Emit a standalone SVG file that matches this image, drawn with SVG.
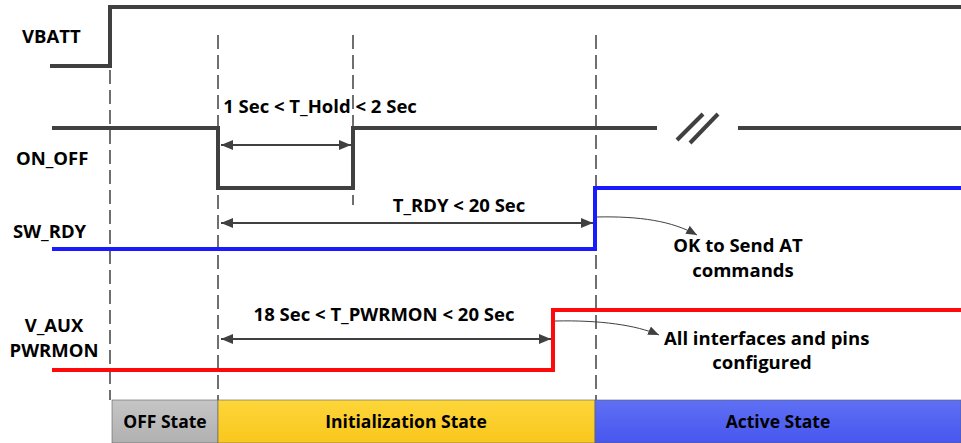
<svg xmlns="http://www.w3.org/2000/svg" width="961" height="443" viewBox="0 0 961 443">
<style>
.sig{fill:none;stroke:#404040;stroke-width:4;stroke-linejoin:miter;stroke-linecap:butt}
.blue{stroke:#1a1aff}
.red{stroke:#ff0a0a}
.dash{fill:none;stroke:#404040;stroke-width:1.5;stroke-dasharray:14 6}
.dim{fill:none;stroke:#404040;stroke-width:2}
.ann{fill:none;stroke:#404040;stroke-width:1}
text{font-family:"Open Sans","Liberation Sans",sans-serif;font-weight:bold;font-size:18.5px;fill:#000}
.c{text-anchor:middle}
.bar{font-size:17.5px}
</style>
<defs>
<marker id="ah" viewBox="0 0 12 10" refX="12" refY="5" markerWidth="12" markerHeight="10" markerUnits="userSpaceOnUse" orient="auto-start-reverse">
<path d="M0,0 L12,5 L0,10 z" fill="#404040"/>
</marker>
<marker id="ahs" viewBox="0 0 12 10" refX="12" refY="5" markerWidth="11" markerHeight="9" markerUnits="userSpaceOnUse" orient="auto">
<path d="M0,0 L12,5 L0,10 z" fill="#404040"/>
</marker>
<linearGradient id="gGray" x1="0" y1="0" x2="0" y2="1"><stop offset="0" stop-color="#c6c6c6"/><stop offset="1" stop-color="#b0b0b0"/></linearGradient>
<linearGradient id="gYel" x1="0" y1="0" x2="0" y2="1"><stop offset="0" stop-color="#fdd63a"/><stop offset="1" stop-color="#f9c71c"/></linearGradient>
<linearGradient id="gBlue" x1="0" y1="0" x2="0" y2="1"><stop offset="0" stop-color="#5f70f4"/><stop offset="1" stop-color="#4756ee"/></linearGradient>
</defs>

<g id="labels">
<text x="22" y="43">VBATT</text>
<text x="16" y="165">ON_OFF</text>
<text x="13" y="238">SW_RDY</text>
<text x="54" y="332" class="c">V_AUX</text>
<text x="54" y="357" class="c">PWRMON</text>
</g>

<g id="guides">
<line class="dash" x1="110" y1="70" x2="110" y2="400"/>
<line class="dash" x1="218" y1="35" x2="218" y2="400"/>
<line class="dash" x1="353" y1="35" x2="353" y2="205"/>
<line class="dash" x1="596" y1="35" x2="596" y2="400"/>
</g>

<g id="vbatt">
<path class="sig" d="M50,66 H110 V7 H961" stroke-linecap="round"/>
</g>

<g id="on_off">
<path class="sig" d="M52,128 H218 V188 H353 V128 H657" stroke-linecap="round"/>
<line class="sig" x1="677" y1="140" x2="703" y2="114" stroke-linecap="round" stroke-width="3.5"/>
<line class="sig" x1="690" y1="143" x2="718" y2="114" stroke-linecap="round" stroke-width="3.5"/>
<line class="sig" x1="738" y1="128" x2="961" y2="128" stroke-linecap="round"/>
</g>

<g id="sw_rdy">
<path class="sig blue" d="M52,249 H595 V188 H961" stroke-linecap="round"/>
</g>

<g id="v_aux">
<path class="sig red" d="M52,370 H553 V310 H961" stroke-linecap="round"/>
</g>

<g id="connectors">
<line class="dim" x1="221" y1="145" x2="351" y2="145" marker-start="url(#ah)" marker-end="url(#ah)"/>
<line class="dim" x1="221" y1="223" x2="593" y2="223" marker-start="url(#ah)" marker-end="url(#ah)"/>
<line class="dim" x1="221" y1="339" x2="551" y2="339" marker-start="url(#ah)" marker-end="url(#ah)"/>
<path class="ann" d="M596,217 C640,216 672,221 697,235" marker-end="url(#ahs)"/>
<path class="ann" d="M555,321 C600,320 636,325 659,335" marker-end="url(#ahs)"/>
</g>

<g id="dim-labels">
<text x="320" y="113" class="c">1 Sec &lt; T_Hold &lt; 2 Sec</text>
<text x="459" y="212" class="c">T_RDY &lt; 20 Sec</text>
<text x="384" y="321" class="c">18 Sec &lt; T_PWRMON &lt; 20 Sec</text>
<text x="738" y="252" class="c">OK to Send AT</text>
<text x="743" y="277" class="c">commands</text>
<text x="664" y="345">All interfaces and pins</text>
<text x="762" y="369" class="c">configured</text>
</g>

<g id="off_state">
<rect x="112" y="400" width="106" height="43" fill="url(#gGray)" stroke="#606060" stroke-width="0.6"/>
<text x="165" y="428" class="c bar">OFF State</text>
</g>
<g id="init_state">
<rect x="218" y="400" width="377" height="43" fill="url(#gYel)" stroke="#606060" stroke-width="0.6"/>
<text x="406" y="428" class="c bar">Initialization State</text>
</g>
<g id="active_state">
<rect x="595" y="400" width="366" height="43" fill="url(#gBlue)" stroke="#606060" stroke-width="0.6"/>
<text x="778" y="428" class="c bar">Active State</text>
</g>
</svg>
